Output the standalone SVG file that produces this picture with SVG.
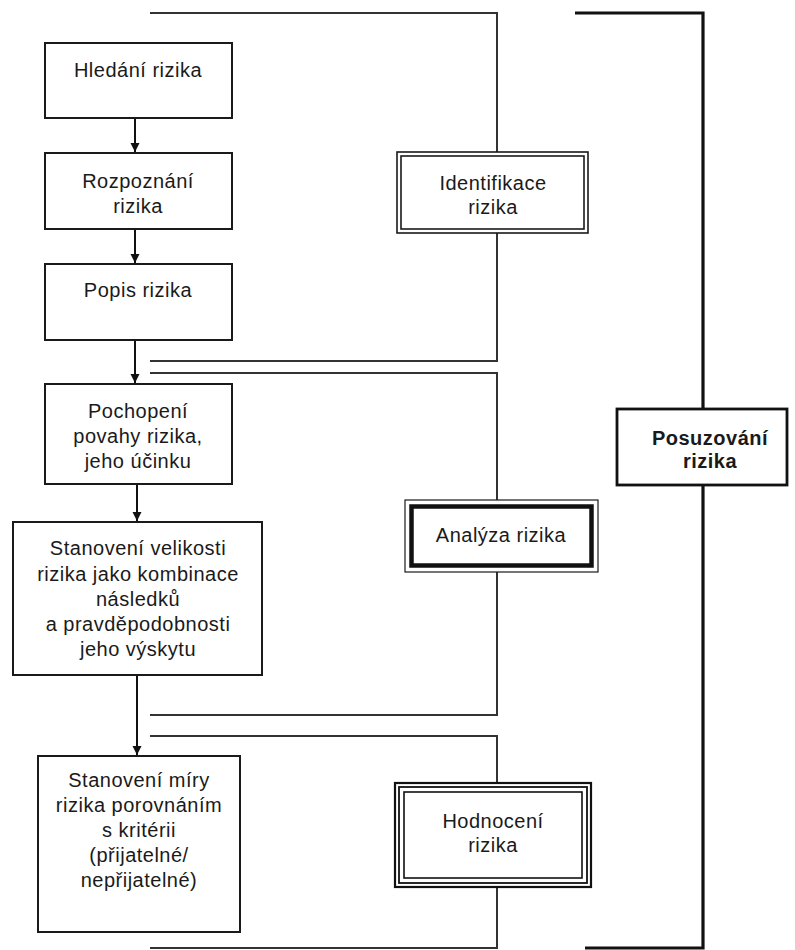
<svg xmlns="http://www.w3.org/2000/svg" width="795" height="950" viewBox="0 0 795 950">
<style>
.box{fill:#fff;stroke:#1a1a1a;stroke-width:2}
.t{font-family:"Liberation Sans",Arial,sans-serif;font-size:20px;letter-spacing:0.5px;fill:#1a1a1a;text-anchor:middle}
.b{font-weight:bold}
.br{fill:none;stroke:#333;stroke-width:2}
.brk{fill:none;stroke:#111;stroke-width:3.2}
.arr{stroke:#111;stroke-width:2;fill:none}
.thin{fill:none;stroke:#1a1a1a;stroke-width:1.6}
</style>
<defs>
<marker id="ah" markerWidth="10" markerHeight="10" refX="9" refY="5" orient="auto" markerUnits="userSpaceOnUse">
<path d="M0,0.5 L9,5 L0,9.5 Z" fill="#111"/>
</marker>
</defs>
<rect width="795" height="950" fill="#fff"/>

<g id="connectors">
<line class="arr" x1="135" y1="118" x2="135" y2="152" marker-end="url(#ah)"/>
<line class="arr" x1="135" y1="229" x2="135" y2="263" marker-end="url(#ah)"/>
<line class="arr" x1="135" y1="340" x2="135" y2="383" marker-end="url(#ah)"/>
<line class="arr" x1="137" y1="484" x2="137" y2="521" marker-end="url(#ah)"/>
<line class="arr" x1="137" y1="675" x2="137" y2="755" marker-end="url(#ah)"/>
<!-- Identifikace bracket -->
<path class="br" d="M150,13 H497 V152"/>
<path class="br" d="M497,233 V361 H150"/>
<!-- Analyza bracket -->
<path class="br" d="M150,373 H497 V500"/>
<path class="br" d="M497,572 V715 H150"/>
<!-- Hodnoceni bracket -->
<path class="br" d="M150,736 H497 V783"/>
<path class="br" d="M497,887 V948 H150"/>
<!-- Posuzovani bracket -->
<path class="brk" d="M575,13 H703 V409"/>
<path class="brk" d="M703,485 V948 H585"/>
</g>

<g id="n1">
<rect class="box" x="45" y="43" width="187" height="75"/>
<text class="t" x="138" y="77">Hledání rizika</text>
</g>
<g id="n2">
<rect class="box" x="45" y="153" width="187" height="76"/>
<text class="t" x="138" y="188">Rozpoznání</text>
<text class="t" x="138" y="213">rizika</text>
</g>
<g id="n3">
<rect class="box" x="45" y="264" width="187" height="76"/>
<text class="t" x="138" y="297">Popis rizika</text>
</g>
<g id="n4">
<rect class="box" x="45" y="384" width="187" height="100"/>
<text class="t" x="138" y="418">Pochopení</text>
<text class="t" x="138" y="443">povahy rizika,</text>
<text class="t" x="138" y="468">jeho účinku</text>
</g>
<g id="n5">
<rect class="box" x="13" y="522" width="249" height="153"/>
<text class="t" x="138" y="555">Stanovení velikosti</text>
<text class="t" x="138" y="581">rizika jako kombinace</text>
<text class="t" x="138" y="606">následků</text>
<text class="t" x="138" y="631">a pravděpodobnosti</text>
<text class="t" x="138" y="656">jeho výskytu</text>
</g>
<g id="n6">
<rect class="box" x="38" y="756" width="202" height="176"/>
<text class="t" x="139" y="787">Stanovení míry</text>
<text class="t" x="139" y="812">rizika porovnáním</text>
<text class="t" x="139" y="837">s kritérii</text>
<text class="t" x="139" y="862">(přijatelné/</text>
<text class="t" x="139" y="887">nepřijatelné)</text>
</g>

<g id="identifikace">
<rect x="397" y="152" width="191" height="81" fill="#fff" class="thin"/>
<rect x="401" y="156" width="183" height="73" class="thin"/>
<text class="t" x="493" y="190">Identifikace</text>
<text class="t" x="493" y="214">rizika</text>
</g>
<g id="analyza">
<rect x="405" y="500" width="193" height="72" fill="#fff" stroke="#1a1a1a" stroke-width="1.2"/>
<rect x="411.5" y="506.5" width="180" height="59" fill="none" stroke="#111" stroke-width="4.5"/>
<text class="t" x="501" y="542">Analýza rizika</text>
</g>
<g id="hodnoceni">
<rect x="395" y="783" width="196" height="104" fill="#fff" stroke="#111" stroke-width="2.2"/>
<rect x="399" y="787" width="188" height="96" fill="none" stroke="#111" stroke-width="1.8"/>
<rect x="404" y="792" width="178" height="86" fill="none" stroke="#111" stroke-width="1.6"/>
<text class="t" x="493" y="828">Hodnocení</text>
<text class="t" x="493" y="852">rizika</text>
</g>
<g id="posuzovani">
<rect x="617" y="409" width="170" height="76" fill="#fff" stroke="#111" stroke-width="2.8"/>
<text class="t b" x="710" y="445">Posuzování</text>
<text class="t b" x="710" y="468">rizika</text>
</g>
</svg>
